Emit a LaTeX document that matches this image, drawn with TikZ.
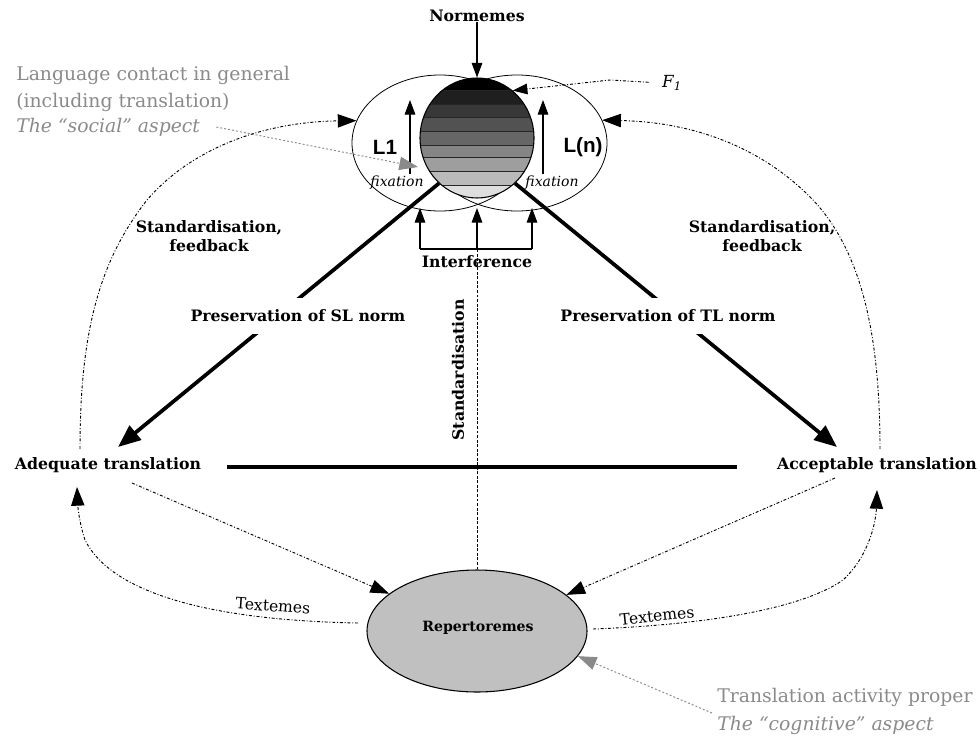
\documentclass[tikz,border=0pt]{standalone}
\usepackage{fontspec}
\setmainfont{DejaVu Serif}
\newfontfamily\lsans{Liberation Sans}
\usetikzlibrary{arrows.meta,shapes.geometric}
\definecolor{gtext}{HTML}{8A8A8A}
\definecolor{repfill}{HTML}{C0C0C0}
\begin{document}
\begin{tikzpicture}[x=0.75pt,y=-0.75pt,
  boldlbl/.style={font=\bfseries\fontsize{11.8}{14.5}\selectfont, inner sep=0pt, align=center},
  graytxt/.style={font=\fontsize{14.1}{16}\selectfont, text=gtext, anchor=west, inner sep=0pt},
  thinarr/.style={line width=0.8pt, -{Triangle[length=11pt,width=8pt]}},
  thickarr/.style={line width=2.8pt, -{Triangle[length=17pt,width=13.5pt]}},
  ddash/.style={line width=0.7pt, dash pattern=on 2.2pt off 1.4pt on 0.7pt off 1.4pt},
  curvarr/.style={ddash, -{Triangle[length=14pt,width=10pt]}},
  graydash/.style={line width=0.7pt, draw=gtext, dash pattern=on 1.5pt off 1.5pt, -{Triangle[length=14pt,width=10pt,fill=gtext]}},
  fixlbl/.style={font=\itshape\fontsize{10.5}{12}\selectfont, inner sep=0pt},
  lang/.style={ellipse, draw, line width=0.6pt, inner sep=0pt}
]
\useasboundingbox (0,0) rectangle (980,739);

% language ellipses
\node[lang, minimum width=132pt, minimum height=102pt] (L1e) at (440,143) {};
\node[lang, minimum width=135pt, minimum height=102pt] (Lne) at (517,143) {};

% shaded sphere
\begin{scope}
\clip (477,138) ellipse [x radius=42.75pt, y radius=45pt];
\fill[black]    (410,70) rectangle (545,90);
\fill[black!88] (410,90) rectangle (545,104);
\fill[black!78] (410,104) rectangle (545,117);
\fill[black!68] (410,117) rectangle (545,131);
\fill[black!60] (410,131) rectangle (545,145);
\fill[black!48] (410,145) rectangle (545,157);
\fill[black!38] (410,157) rectangle (545,171);
\fill[black!27] (410,171) rectangle (545,185);
\fill[black!13] (410,185) rectangle (545,205);
\foreach \yy in {90,104,117,131,145,157,171,185}
  \draw[line width=0.6pt, black!85] (410,\yy) -- (545,\yy);
\end{scope}
\node[ellipse, draw, line width=0.8pt, minimum width=85.5pt, minimum height=90pt, inner sep=0pt] (sph) at (477,138) {};

% Normemes
\node[boldlbl] (norm) at (477,16) {Normemes};
\draw[thinarr] (norm.south) -- (sph.north);

% F1
\node[font=\itshape\fontsize{12.5}{14}\selectfont, inner sep=1pt] (f1) at (672,83) {F\textsubscript{1}};
\coordinate (f1bend) at (610,80);
\draw[ddash, shorten <=9pt, -{Triangle[length=11pt,width=8pt]}] (f1.west) -- (f1bend) -- (sph.53);

% L1 / L(n)
\node[font=\lsans\bfseries\fontsize{15.5}{17}\selectfont, inner sep=0pt] (l1) at (385,147) {L1};
\node[font=\lsans\bfseries\fontsize{15.5}{17}\selectfont, inner sep=0pt] (ln) at (583,147) {L(n)};
\node[fixlbl] (fixl) at (397,183) {fixation};
\node[fixlbl] (fixr) at (552,183) {fixation};
\coordinate (fa1) at (410,174); \coordinate (fa2) at (410,100);
\coordinate (fb1) at (543,174); \coordinate (fb2) at (543,100);
\draw[thinarr] (fa1) -- (fa2);
\draw[thinarr] (fb1) -- (fb2);

% social aspect (gray)
\node[graytxt] (soc1) at (16,75) {Language contact in general};
\node[graytxt] (soc2) at (16,102) {(including translation)};
\node[graytxt, font=\itshape\fontsize{14.1}{16}\selectfont] (soc3) at (16,127) {The “social” aspect};
\coordinate (gtip1) at (418,167);
\draw[graydash] ([xshift=12pt]soc3.east) -- (gtip1);

% Interference
\node[boldlbl] (intf) at (477,262) {Interference};
\coordinate (ia) at (420,249); \coordinate (ib) at (477,249); \coordinate (ic) at (532,249);
\coordinate (iat) at (420,208); \coordinate (ibt) at (477,208); \coordinate (ict) at (532,208);
\draw[line width=0.8pt] (ia) -- (ic);
\draw[thinarr] (ia) -- (iat);
\draw[thinarr] (ib) -- (ibt);
\draw[thinarr] (ic) -- (ict);

% translations
\node[boldlbl] (ad) at (108,465) {Adequate translation};
\node[boldlbl] (ac) at (877,465) {Acceptable translation};
\coordinate (hl1) at (227,467); \coordinate (hl2) at (737,467);
\draw[line width=2.8pt] (hl1) -- (hl2);

\coordinate (adin) at (118,447);
\coordinate (acin) at (837,447);
\draw[thickarr] (sph.230) -- (adin);
\draw[thickarr] (sph.310) -- (acin);
\node[boldlbl, fill=white, inner xsep=2pt, inner ysep=9pt] (psl) at (298,316) {Preservation of SL norm};
\node[boldlbl, fill=white, inner xsep=2pt, inner ysep=9pt] (ptl) at (668,316) {Preservation of TL norm};

% Standardisation, feedback
\node[boldlbl] (sfl) at (209,236) {Standardisation,\\feedback};
\node[boldlbl] (sfr) at (762,236) {Standardisation,\\feedback};

% Repertoremes
\node[ellipse, draw, fill=repfill, line width=0.8pt, minimum width=165pt, minimum height=91.5pt, inner sep=0pt] (rep) at (477,631) {};
\node[boldlbl, font=\bfseries\fontsize{10.6}{13}\selectfont] (replbl) at (478,628) {Repertoremes};

% Standardisation vertical
\draw[line width=0.7pt, dash pattern=on 2.2pt off 1.2pt] (rep.north) -- (ib);
\node[boldlbl, rotate=90] (stdv) at (458,370) {Standardisation};

% big dotted curves
\coordinate (adtop) at (80,449);
\coordinate (actop) at (880,449);
\draw[curvarr] (adtop) .. controls (80,330) and (100,260) .. (147,200)
   .. controls (190,150) and (260,122) .. (L1e.165);
\draw[curvarr] (actop) .. controls (880,330) and (860,250) .. (813,200)
   .. controls (760,145) and (690,122) .. (Lne.15);

% to repertoremes
\coordinate (adout) at (132,483);
\coordinate (acout) at (835,478);
\draw[curvarr] (adout) -- (rep.157);
\draw[curvarr] (acout) -- (rep.22);

% Textemes
\coordinate (tl) at (358,623);
\coordinate (tr) at (593,629);
\coordinate (adbot) at (77,487);
\coordinate (acbot) at (877,490);
\draw[curvarr] (tl) .. controls (200,620) and (110,590) .. (85,540)
   .. controls (80,525) and (78,510) .. (adbot);
\draw[curvarr] (tr) .. controls (700,625) and (800,610) .. (843,580)
   .. controls (870,555) and (876,520) .. (acbot);
\node[font=\fontsize{11.7}{13}\selectfont, inner sep=0pt, rotate=-4] (txl) at (273,606) {Textemes};
\node[font=\fontsize{11.7}{13}\selectfont, inner sep=0pt, rotate=6] (txr) at (657,616) {Textemes};

% cognitive aspect (gray)
\node[graytxt] (cog1) at (717,697) {Translation activity proper};
\node[graytxt, font=\itshape\fontsize{14.1}{16}\selectfont] (cog2) at (717,725) {The “cognitive” aspect};
\coordinate (gcs) at (712,713);
\draw[graydash] (gcs) -- (rep.-14);
\end{tikzpicture}
\end{document}
